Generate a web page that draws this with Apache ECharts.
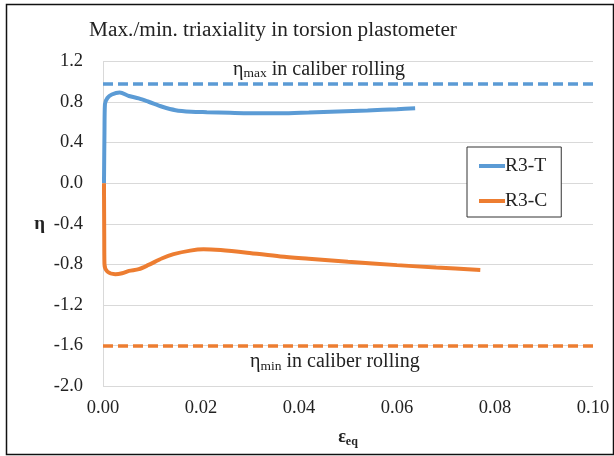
<!DOCTYPE html>
<html>
<head>
<meta charset="utf-8">
<script src="https://cdn.jsdelivr.net/npm/echarts@6/dist/echarts.min.js"></script>
<style>
  html, body { margin: 0; padding: 0; background: #fff; }
  #chart { width: 614px; height: 456px; }
</style>
</head>
<body>
<div id="chart"></div>
<script>
// Equivalent strain and stress triaxiality, torsion test R3-T
var strainT = [0.0002, 0.0003, 0.0004, 0.0009, 0.0018, 0.0034, 0.0053, 0.0073, 0.0093, 0.0121,
               0.0148, 0.0180, 0.0212, 0.0259, 0.0300, 0.0362, 0.0420, 0.0480, 0.0540, 0.0600, 0.0637];
var etaT    = [0, 0.50, 0.78, 0.84, 0.875, 0.895, 0.86, 0.836, 0.803, 0.754,
               0.72, 0.705, 0.70, 0.694, 0.690, 0.690, 0.698, 0.708, 0.718, 0.730, 0.738];

// Torsion test R3-C
var strainC = [0.0002, 0.00025, 0.0003, 0.0009, 0.0025, 0.0039, 0.0053, 0.0073, 0.0093, 0.0121,
               0.0144, 0.0178, 0.0205, 0.0240, 0.0294, 0.0362, 0.0420, 0.0500, 0.0600, 0.0680, 0.0770];
var etaC    = [0, -0.50, -0.80, -0.872, -0.897, -0.888, -0.865, -0.848, -0.806, -0.74,
               -0.70, -0.665, -0.652, -0.66, -0.685, -0.722, -0.745, -0.775, -0.808, -0.832, -0.855];

// Triaxiality limits reached in caliber rolling
var etaMaxCaliber = 0.98;
var etaMinCaliber = -1.6;

var seriesNames = ['R3-T', 'R3-C'];
var yTicks = { min: -2.0, max: 1.2, interval: 0.4 };
var xTicks = { min: 0, max: 0.10, interval: 0.02 };

var serif = '"Liberation Serif", "Times New Roman", serif';
var blue = '#5B9BD5';
var orange = '#ED7D31';
var ink = '#222';

function pairs(xs, ys) {
  return xs.map(function (x, i) { return [x, ys[i]]; });
}

function limitLabel(sub, position, distance) {
  return {
    show: true,
    position: position,
    distance: distance,
    formatter: '{e|η}{s|' + sub + '}{t| in caliber rolling}',
    color: ink,
    rich: {
      e: { fontFamily: serif, fontSize: 20, color: ink },
      s: { fontFamily: serif, fontSize: 13.5, color: ink, padding: [9, 0, 0, 0] },
      t: { fontFamily: serif, fontSize: 20, color: ink }
    }
  };
}

var chart = echarts.init(document.getElementById('chart'), null, { renderer: 'canvas' });

chart.setOption({
  animation: false,
  backgroundColor: '#fff',
  textStyle: { fontFamily: serif },
  title: {
    text: 'Max./min. triaxiality in torsion plastometer',
    left: 268,
    top: 15,
    textAlign: 'center',
    textStyle: { fontFamily: serif, fontSize: 21.3, fontWeight: 'normal', color: ink }
  },
  grid: { left: 103, right: 21, top: 61.5, bottom: 70, containLabel: false },
  legend: {
    orient: 'vertical',
    left: 467,
    top: 147,
    padding: [9, 14, 6, 12],
    itemGap: 15,
    itemWidth: 26,
    itemHeight: 4,
    icon: 'rect',
    borderColor: '#333',
    borderWidth: 1,
    backgroundColor: '#fff',
    textStyle: { fontFamily: serif, fontSize: 19.5, color: ink, padding: [0, 0, 0, -5] },
    data: seriesNames
  },
  xAxis: {
    type: 'value',
    min: xTicks.min,
    max: xTicks.max,
    interval: xTicks.interval,
    name: '{e|ε}{s|eq}',
    nameLocation: 'middle',
    nameGap: 41,
    nameTextStyle: {
      rich: {
        e: { fontFamily: serif, fontSize: 18, fontWeight: 'bold', color: ink },
        s: { fontFamily: serif, fontSize: 12, fontWeight: 'bold', color: ink, padding: [9, 0, 0, 0] }
      }
    },
    axisLine: { show: false },
    axisTick: { show: false },
    splitLine: { show: false },
    axisLabel: {
      fontFamily: serif, fontSize: 18.5, color: ink, margin: 13,
      formatter: function (v) { return v.toFixed(2); }
    }
  },
  yAxis: {
    type: 'value',
    min: yTicks.min,
    max: yTicks.max,
    interval: yTicks.interval,
    name: 'η',
    nameLocation: 'middle',
    nameGap: 58,
    nameRotate: 0,
    nameTextStyle: { fontFamily: serif, fontSize: 19, fontWeight: 'bold', color: ink },
    axisLine: { show: true, lineStyle: { color: '#D9D9D9', width: 1 } },
    axisTick: { show: false },
    splitLine: { show: true, lineStyle: { color: '#D9D9D9', width: 1 } },
    axisLabel: {
      fontFamily: serif, fontSize: 18.5, color: ink, margin: 20,
      formatter: function (v) { return v.toFixed(1); }
    }
  },
  series: [
    {
      name: seriesNames[0],
      type: 'line',
      data: pairs(strainT, etaT),
      smooth: 0.3,
      showSymbol: false,
      lineStyle: { color: blue, width: 4 },
      itemStyle: { color: blue },
      z: 3,
      markLine: {
        silent: true,
        symbol: 'none',
        lineStyle: { color: blue, width: 3.5, type: [10, 5] },
        label: limitLabel('max', 'insideStartTop', [130, 3]),
        data: [{ yAxis: etaMaxCaliber }]
      }
    },
    {
      name: seriesNames[1],
      type: 'line',
      data: pairs(strainC, etaC),
      smooth: 0.3,
      showSymbol: false,
      lineStyle: { color: orange, width: 4 },
      itemStyle: { color: orange },
      z: 3,
      markLine: {
        silent: true,
        symbol: 'none',
        lineStyle: { color: orange, width: 3.5, type: [10, 5] },
        label: limitLabel('min', 'insideStartBottom', [147, 5]),
        data: [{ yAxis: etaMinCaliber }]
      }
    }
  ],
  graphic: [
    {
      type: 'rect',
      left: 4, top: 2,
      shape: { width: 607, height: 450 },
      style: { fill: 'none', stroke: '#111', lineWidth: 1.5 },
      silent: true,
      z: 100
    }
  ]
});
</script>
</body>
</html>
